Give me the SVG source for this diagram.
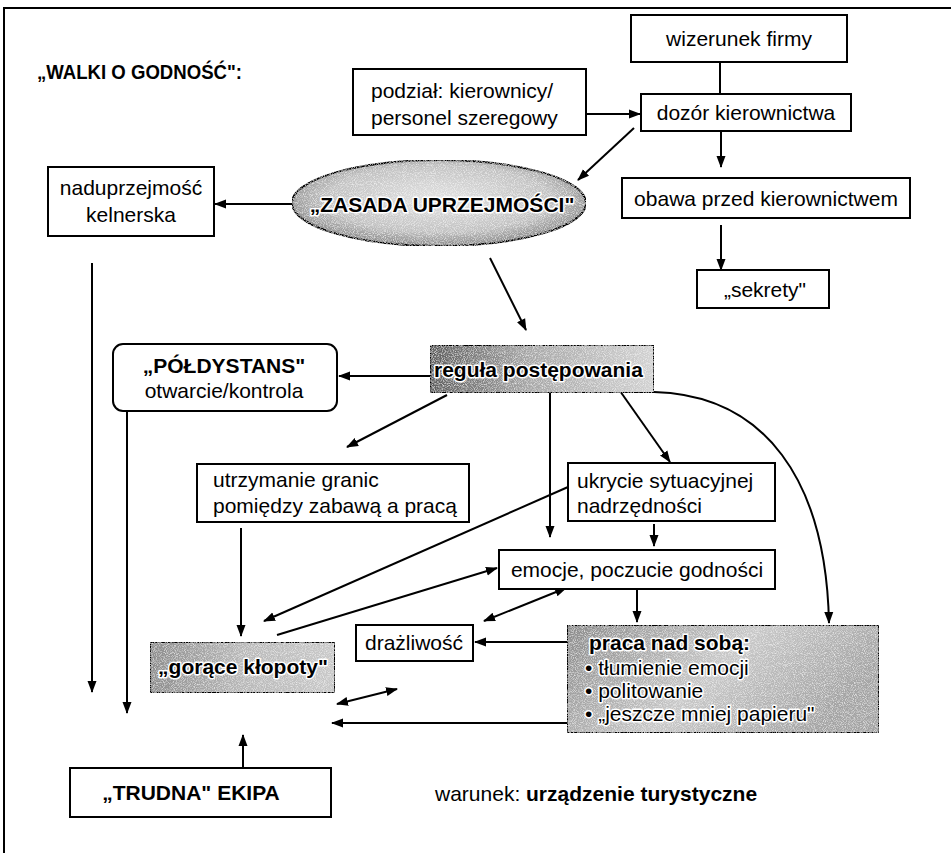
<svg xmlns="http://www.w3.org/2000/svg" width="951" height="853" viewBox="0 0 951 853">
  <defs>
    <marker id="ah" viewBox="0 0 12 10" refX="11" refY="5" markerWidth="12" markerHeight="10" markerUnits="userSpaceOnUse" orient="auto-start-reverse">
      <path d="M0,0.5 L12,5 L0,9.5 Z" fill="#000"/>
    </marker>
    <linearGradient id="gDark" x1="0" y1="0" x2="1" y2="0">
      <stop offset="0" stop-color="#5e5e5e"/>
      <stop offset="0.45" stop-color="#a8a8a8"/>
      <stop offset="1" stop-color="#d2d2d2"/>
    </linearGradient>
    <linearGradient id="gHot" x1="0" y1="0" x2="1" y2="0">
      <stop offset="0" stop-color="#8c8c8c"/>
      <stop offset="0.5" stop-color="#b8b8b8"/>
      <stop offset="1" stop-color="#c8c8c8"/>
    </linearGradient>
    <linearGradient id="gWork" x1="0" y1="0" x2="1" y2="0.35">
      <stop offset="0" stop-color="#8a8a8a"/>
      <stop offset="0.55" stop-color="#c8c8c8"/>
      <stop offset="1" stop-color="#a4a4a4"/>
    </linearGradient>
    <radialGradient id="gEll" cx="0.5" cy="0.45" r="0.55">
      <stop offset="0" stop-color="#e2e2e2"/>
      <stop offset="0.7" stop-color="#c2c2c2"/>
      <stop offset="1" stop-color="#8a8a8a"/>
    </radialGradient>
    <!-- light speckle over the shaded shapes -->
    <filter id="grain" x="0" y="0" width="100%" height="100%">
      <feTurbulence type="fractalNoise" baseFrequency="1.1" numOctaves="1" seed="7" result="n"/>
      <feColorMatrix in="n" type="matrix" values="0 0 0 0 1  0 0 0 0 1  0 0 0 0 1  1.8 0 0 0 -0.8" result="w"/>
      <feComposite in="w" in2="SourceAlpha" operator="in" result="wd"/>
      <feMerge><feMergeNode in="SourceGraphic"/><feMergeNode in="wd"/></feMerge>
    </filter>
  </defs>
  <style>
    text { font-family: "Liberation Sans", Arial, sans-serif; font-size: 21px; fill: #000; }
    .b { font-weight: bold; }
    .halo { stroke: #fff; stroke-width: 3px; paint-order: stroke; stroke-linejoin: round; }
    .box { fill: #fff; stroke: #000; stroke-width: 2; }
    .dark { stroke: #000; stroke-width: 2; }
    .ln { fill: none; stroke: #000; stroke-width: 2; }
    .ar { fill: none; stroke: #000; stroke-width: 2; marker-end: url(#ah); }
    .ar2 { fill: none; stroke: #000; stroke-width: 2; marker-start: url(#ah); marker-end: url(#ah); }
  </style>

  <rect width="951" height="853" fill="#fff"/>
  <!-- outer frame -->
  <path class="ln" d="M4,853 V8 H951" stroke-width="1.5"/>

  <text id="title" class="b" x="37" y="79" font-size="22" textLength="205" lengthAdjust="spacingAndGlyphs">„WALKI O GODNOŚĆ":</text>

  <!-- connectors -->
  <g id="connectors">
    <path class="ln" d="M720,62 V94"/>
    <path class="ar" d="M586,114 H640"/>
    <path class="ar" d="M634,128 L578,180"/>
    <path class="ar" d="M721,131 V167"/>
    <path class="ar" d="M721,225 V270"/>
    <path class="ar" d="M292,204 H215"/>
    <path class="ar" d="M490,258 L526,330"/>
    <path class="ar" d="M430,376 H339"/>
    <path class="ar" d="M447,395 L347,447"/>
    <path class="ar" d="M550,393 V537"/>
    <path class="ar" d="M620,391 L670,462"/>
    <path class="ar" d="M654,392 C765,395 826,480 829,623"/>
    <path class="ar" d="M654,524 V546"/>
    <path class="ar" d="M241,528 V636"/>
    <path class="ar" d="M568,487 L264,621"/>
    <path class="ar" d="M277,635 L497,568"/>
    <path class="ar2" d="M484,621 L566,588"/>
    <path class="ar" d="M637,589 V622"/>
    <path class="ar" d="M567,642 H475"/>
    <path class="ar2" d="M337,704 L397,689"/>
    <path class="ar" d="M567,723 H332"/>
    <path class="ar" d="M92,263 V692"/>
    <path class="ar" d="M127,410 V713"/>
    <path class="ar" d="M243,767 V735"/>
  </g>

  <g id="wizerunek">
    <rect class="box" x="631" y="15" width="216" height="47"/>
    <text x="739" y="46" text-anchor="middle">wizerunek firmy</text>
  </g>
  <g id="podzial">
    <rect class="box" x="353" y="69" width="233" height="66"/>
    <text x="371" y="98">podział: kierownicy/</text>
    <text x="371" y="125">personel szeregowy</text>
  </g>
  <g id="dozor">
    <rect class="box" x="641" y="94" width="210" height="37"/>
    <text x="746" y="120" text-anchor="middle">dozór kierownictwa</text>
  </g>
  <g id="obawa">
    <rect class="box" x="622" y="178" width="288" height="40"/>
    <text x="766" y="206" text-anchor="middle">obawa przed kierownictwem</text>
  </g>
  <g id="sekrety">
    <rect class="box" x="697" y="270" width="132" height="38"/>
    <text x="765" y="297" text-anchor="middle">„sekrety"</text>
  </g>
  <g id="zasada">
    <ellipse cx="439" cy="203" rx="147" ry="43" fill="url(#gEll)" stroke="#000" stroke-width="2" filter="url(#grain)"/>
    <text class="b halo" x="442" y="212" text-anchor="middle" font-size="21.5">„ZASADA UPRZEJMOŚCI"</text>
  </g>
  <g id="naduprzejmosc">
    <rect class="box" x="48" y="167" width="166" height="69"/>
    <text x="131" y="195" text-anchor="middle">naduprzejmość</text>
    <text x="131" y="222" text-anchor="middle">kelnerska</text>
  </g>
  <g id="regula">
    <rect class="dark" x="430" y="345" width="224" height="48" fill="url(#gDark)" filter="url(#grain)"/>
    <text class="b halo" x="434" y="377">reguła postępowania</text>
  </g>
  <g id="poldystans">
    <rect class="box" x="113" y="344" width="224" height="67" rx="10"/>
    <text class="b" x="224" y="373" text-anchor="middle" font-size="20.5">„PÓŁDYSTANS"</text>
    <text x="224" y="398" text-anchor="middle">otwarcie/kontrola</text>
  </g>
  <g id="utrzymanie">
    <rect class="box" x="197" y="464" width="272" height="58"/>
    <text x="213" y="487">utrzymanie granic</text>
    <text x="213" y="513">pomiędzy zabawą a pracą</text>
  </g>
  <g id="ukrycie">
    <rect class="box" x="568" y="463" width="207" height="58"/>
    <text x="577" y="488">ukrycie sytuacyjnej</text>
    <text x="577" y="513">nadrzędności</text>
  </g>
  <g id="emocje">
    <rect class="box" x="499" y="550" width="276" height="39"/>
    <text x="637" y="577" text-anchor="middle">emocje, poczucie godności</text>
  </g>
  <g id="goraceKlopoty">
    <rect class="dark" x="150" y="642" width="185" height="51" fill="url(#gHot)" filter="url(#grain)"/>
    <text class="b halo" x="243" y="674" text-anchor="middle">„gorące kłopoty"</text>
  </g>
  <g id="drazliwosc">
    <rect class="box" x="356" y="625" width="117" height="36"/>
    <text x="414" y="650" text-anchor="middle">drażliwość</text>
  </g>
  <g id="pracaNadSoba">
    <rect class="dark" x="567" y="625" width="312" height="108" fill="url(#gWork)" filter="url(#grain)"/>
    <text class="b halo" x="589" y="650">praca nad sobą:</text>
    <text class="halo" x="585" y="675" font-size="20">• tłumienie emocji</text>
    <text class="halo" x="585" y="698" font-size="20">• politowanie</text>
    <text class="halo" x="585" y="721" font-size="20">• „jeszcze mniej papieru"</text>
  </g>
  <g id="trudnaEkipa">
    <rect class="box" x="70" y="768" width="261" height="49"/>
    <text class="b" x="191" y="800" text-anchor="middle">„TRUDNA" EKIPA</text>
  </g>
  <g id="warunek">
    <text x="435" y="801" font-size="20.5">warunek: <tspan class="b">urządzenie turystyczne</tspan></text>
  </g>
</svg>
